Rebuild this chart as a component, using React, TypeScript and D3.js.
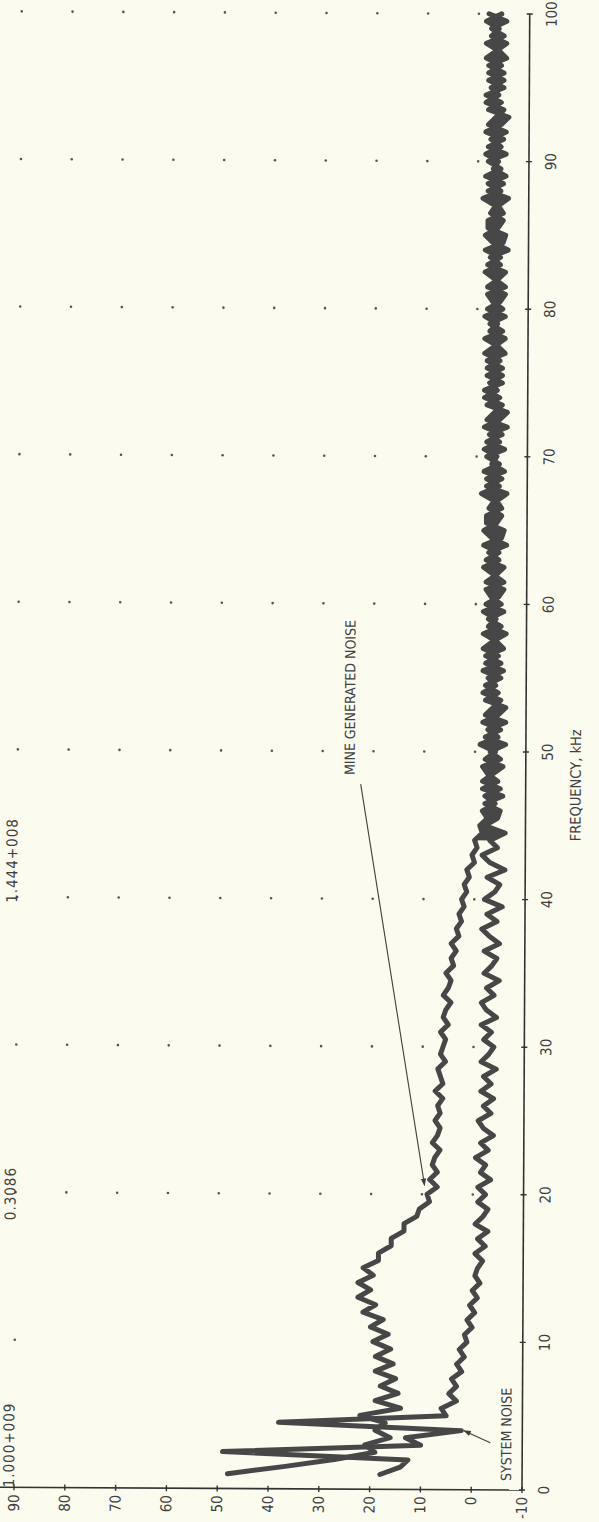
import React from 'react';
import * as d3 from 'd3';

// spectrum sampled every 0.5 kHz starting at 1 kHz (values in dB)
const FREQ_START = 1;
const FREQ_STEP = 0.5;

const MINE_NOISE = [
  48, 37, 27, 19, 21, 16, 19, 17, 22, 14,
  19, 14.5, 18, 15, 19, 15.5, 19, 16, 19.5, 16.5,
  20, 17.5, 21.5, 19, 22.5, 20, 22.5, 19.5, 21.5, 18.5,
  18.5, 16, 16, 13.5, 13.5, 11, 10.5, 8.5, 9, 7,
  8.5, 7, 8, 7.5, 6.5, 8, 7, 6.5, 7.5, 6.5,
  7, 6, 7.5, 6, 6.5, 7, 5.5, 6.5, 6, 5.5,
  6.5, 5, 6, 5.5, 4.5, 6, 5, 4.5, 5.5, 4,
  4.5, 3.5, 4.5, 3, 3.5, 2.5, 3, 2, 2.5, 1.5,
  2, 1, 1.5, 0, 0.5, -0.5, 0, -1.5, -1, -2.5,
  -1.5, -4, -2, -5, -1.5, -3.5, -5.5, -2, -4, -1,
  -4.5, -2.5, -6, -2, -3.5, -5, -1.5, -4, -2.5, -5.5,
  -2, -4.5, -1.5, -3.5, -6, -2.5, -4, -1.5, -5, -3,
  -2, -5.5, -3.5, -1.5, -4.5, -2.5, -6, -3, -1.5, -4,
  -5, -2.5, -3.5, -1, -4.5, -2, -5.5, -3, -4, -1.5,
  -4.5, -2.5, -6, -2, -3.5, -5, -1.5, -4, -2.5, -5,
  -2, -4.5, -1.5, -3.5, -5.5, -2.5, -4, -1.5, -5, -3,
  -2, -5.5, -3.5, -1.5, -4.5, -2.5, -6, -3, -1.5, -4,
  -5, -2.5, -3.5, -1, -4.5, -2, -5.5, -3, -4, -1.5,
  -4.5, -2.5, -5.5, -2, -3.5, -5, -1.5, -4, -2.5, -5,
  -2, -4.5, -1.5, -3.5, -5.5, -2.5, -4, -1.5, -4.5,
];

const SYSTEM_NOISE = [
  18, 14, 12.5, 49, 10, 13, 2, 38, 5, 6,
  3, 4.5, 3, 4, 2, 3, 1.5, 2.5, 1, 1.5,
  0, 1, -0.5, 0.5, -1, 0, -1.5, -0.5, -1, -2,
  -0.5, -2.5, -1, -3, -0.5, -2, -3, -1, -2.5, -1,
  -3.5, -1.5, -2.5, -0.5, -3, -1.5, -4, -2, -1, -3.5,
  -2, -4, -1.5, -3.5, -2, -4.5, -1.5, -3, -4, -2,
  -3.5, -1.5, -4.5, -2.5, -1.5, -4, -2.5, -5, -2, -3.5,
  -4.5, -2, -5, -3, -1.5, -4.5, -2.5, -5.5, -2, -4,
  -5, -2.5, -6, -3, -1.5, -4.5, -3, -6, -2, -4.5,
  -5, -2, -5.5, -1.5, -4.5, -2.5, -1.5, -5, -3, -6,
  -2, -5, -1.5, -4.5, -6, -2, -4.5, -2, -5, -1.5,
  -5, -2, -5.5, -4, -1.5, -5, -2.5, -5.5, -2, -4.5,
  -5.5, -2, -4, -5.5, -2, -4.5, -1.5, -5, -5.5, -2,
  -2, -5, -4, -6, -2, -5, -1.5, -4.5, -2, -5.5,
  -2, -5, -1.5, -4.5, -6, -2, -4.5, -1.5, -5, -2,
  -5, -2, -5.5, -4, -1.5, -5, -2.5, -5.5, -2, -4.5,
  -5.5, -2, -4, -5.5, -2, -4.5, -1.5, -5, -5.5, -2,
  -2, -5, -4, -6, -2, -5, -1.5, -4.5, -2, -5.5,
  -2, -5, -1.5, -4.5, -6, -2, -4.5, -1.5, -5, -2,
  -5, -2, -5.5, -4, -1.5, -5, -2.5, -5.5, -2,
];

const DB_TICKS = [90, 80, 70, 60, 50, 40, 30, 20, 10, 0, -10];
const FREQ_TICKS = [0, 10, 20, 30, 40, 50, 60, 70, 80, 90, 100];
const GRID_DB = [90, 80, 70, 60, 50, 40, 30, 20, 10, 0];
const GRID_FREQ = [10, 20, 30, 40, 50, 60, 70, 80, 90, 100];
const HEADER_LABELS = ['1.000+009', '0.3086', '1.444+008'];
const HEADER_FREQ = [0, 18.1, 39.6];
const MERGE_FREQ = 44; // above this the two traces overlap into one band

type Pt = { f: number; db: number };

const ink = '#3f3f3f';
const curveInk = '#474747';
const font = "'DejaVu Sans Condensed', 'DejaVu Sans', sans-serif";

export default function App() {
  const W = 599, H = 1522;
  const yF = d3.scaleLinear().domain([0, 100]).range([1490, 14]);
  const xDb = d3.scaleLinear().domain([-10, 90]).range([522, 14]);

  const toPts = (vals: number[]): Pt[] => vals.map((v, i) => ({ f: FREQ_START + i * FREQ_STEP, db: v }));
  const line = d3.line<Pt>().x(d => xDb(d.db)).y(d => yF(d.f));

  const sysPts = toPts(SYSTEM_NOISE);
  const minePts = toPts(MINE_NOISE);
  const band = d3.area<Pt>()
    .defined(d => d.f >= MERGE_FREQ)
    .y(d => yF(d.f))
    .x0(d => xDb(d.db))
    .x1(d => xDb(minePts[sysPts.indexOf(d)].db));

  const axisX = xDb(-10);
  const axisY = yF(0);

  const dots: { x: number; y: number; k: string }[] = [];
  GRID_FREQ.forEach(f => {
    GRID_DB.forEach(db => {
      if (f < 20 && db !== 90) return;
      dots.push({ x: xDb(db), y: yF(f), k: f + '_' + db });
    });
  });

  const rot = (x: number, y: number) => `rotate(-90,${x},${y})`;

  return (
    <svg width={W} height={H} style={{ position: 'absolute', left: 0, top: 0, display: 'block' }}>
      <rect width={W} height={H} fill="#fbfbef" />
      <defs>
        <marker id="arr" viewBox="0 0 10 10" refX="9" refY="5" markerWidth="7" markerHeight="7" orient="auto">
          <path d="M0,1.5 L10,5 L0,8.5 z" fill={ink} />
        </marker>
      </defs>
      <g transform={`rotate(0.3,${axisX},${axisY})`}>
        {dots.map(d => <circle key={d.k} cx={d.x} cy={d.y} r={1.3} fill="#555" />)}

        {/* curves */}
        <path d={band(sysPts) || ''} fill={curveInk} stroke="none" />
        {[sysPts, minePts].map((s, i) => (
          <path key={'c' + i} d={line(s) || ''} fill="none" stroke={curveInk}
            strokeWidth={5} strokeLinejoin="round" strokeLinecap="round" />
        ))}

        {/* dB axis */}
        <line x1={0} x2={axisX} y1={axisY} y2={axisY} stroke="#333" strokeWidth={1.6} />
        {DB_TICKS.map(t => (
          <g key={'d' + t}>
            <line x1={xDb(t)} x2={xDb(t)} y1={axisY - 3} y2={axisY + 3} stroke="#333" strokeWidth={1.4} />
            <text x={xDb(t)} y={axisY + 7} transform={rot(xDb(t), axisY + 7)} textAnchor="end"
              dominantBaseline="central" fontFamily={font} fontSize={15} fill={ink}>{t}</text>
          </g>
        ))}

        {/* frequency axis */}
        <line x1={axisX} x2={axisX} y1={axisY} y2={yF(100)} stroke="#333" strokeWidth={1.6} />
        {FREQ_TICKS.map(t => (
          <g key={'f' + t}>
            <line x1={axisX - 3} x2={axisX + 3} y1={yF(t)} y2={yF(t)} stroke="#333" strokeWidth={1.4} />
            <text x={axisX + 22} y={yF(t)} transform={rot(axisX + 22, yF(t))} textAnchor="middle"
              dominantBaseline="central" fontFamily={font} fontSize={15} fill={ink}>{t}</text>
          </g>
        ))}
        <text x={axisX + 50} y={yF(50) + 33} transform={rot(axisX + 50, yF(50) + 33)} textAnchor="middle"
          dominantBaseline="central" fontFamily={font} fontSize={14.5} fill={ink}>FREQUENCY, kHz</text>

        {/* header values along the top edge of the sheet */}
        {HEADER_LABELS.map((s, i) => (
          <text key={s} x={14} y={yF(HEADER_FREQ[i])} transform={rot(14, yF(HEADER_FREQ[i]))}
            fontFamily={font} fontSize={15} letterSpacing={1} fill={ink}>{s}</text>
        ))}

        {/* annotations */}
        <text x={351} y={776} transform={rot(351, 776)} fontFamily={font} fontSize={14} fill={ink}>MINE GENERATED NOISE</text>
        <line x1={357} y1={785} x2={xDb(9.5)} y2={yF(20.6)} stroke={ink} strokeWidth={1.1} markerEnd="url(#arr)" />
        <text x={511} y={1481} transform={rot(511, 1481)} fontFamily={font} fontSize={14} fill={ink}>SYSTEM NOISE</text>
        <line x1={490} y1={1443} x2={xDb(1.5)} y2={yF(4.0)} stroke={ink} strokeWidth={1.1} markerEnd="url(#arr)" />
      </g>
    </svg>
  );
}
